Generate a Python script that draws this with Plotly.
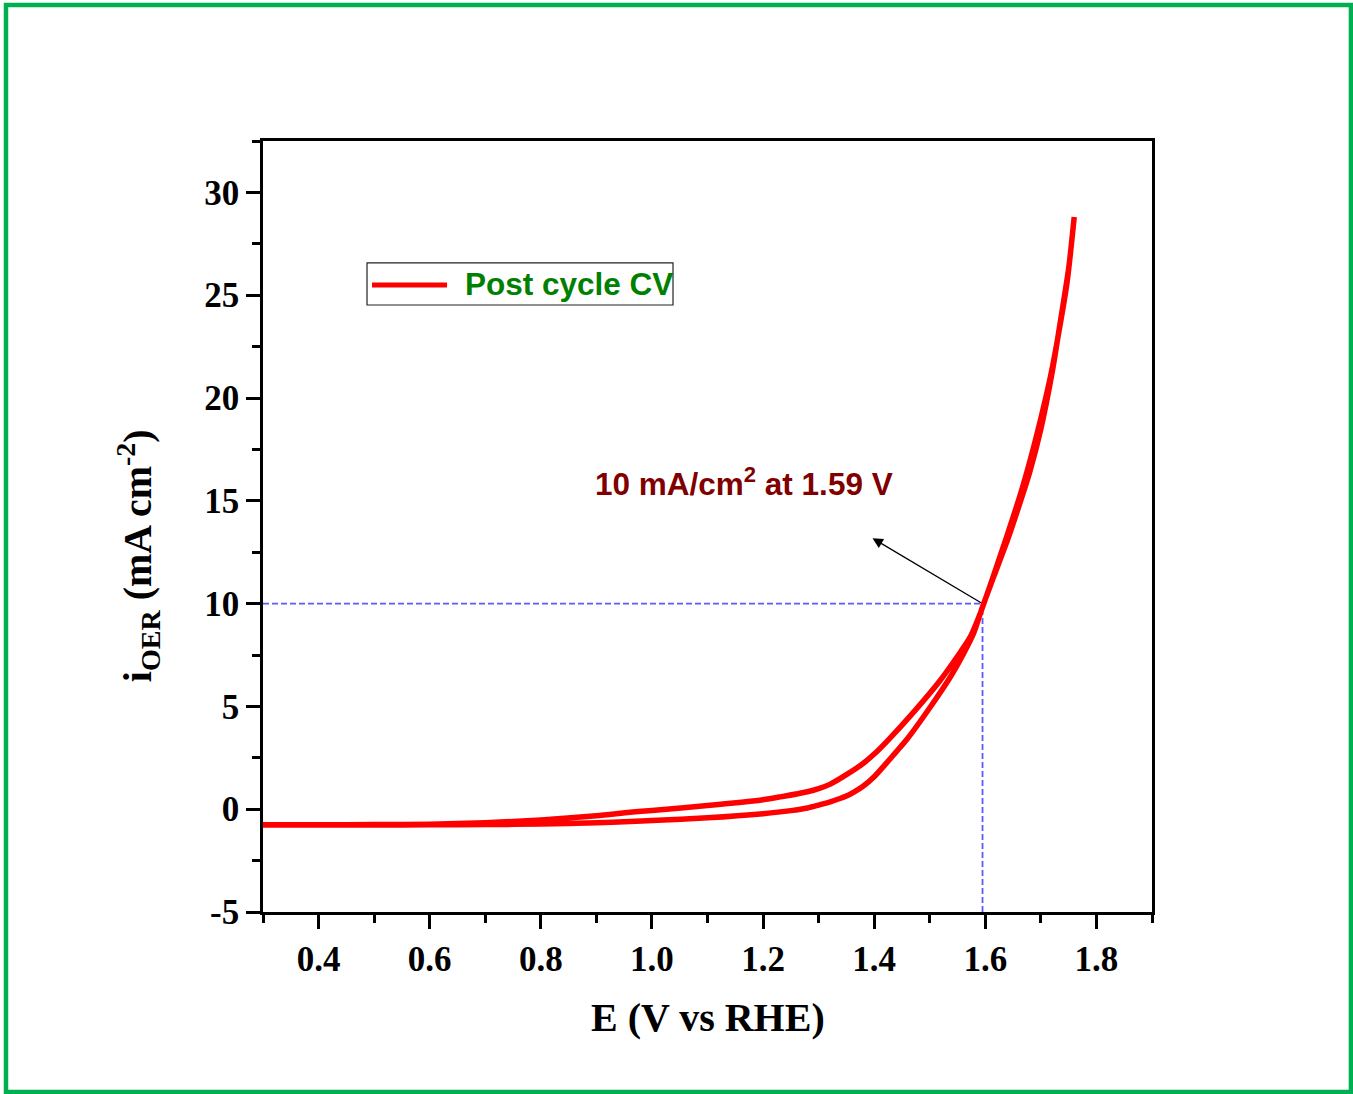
import plotly.graph_objects as go

# ---- data ----
fwd_E = [0.30, 0.40, 0.50, 0.60, 0.70, 0.80, 0.90, 0.96, 1.00, 1.10, 1.20, 1.231, 1.28, 1.30,
         1.321, 1.35, 1.38, 1.40, 1.423, 1.471, 1.519, 1.549, 1.573, 1.591, 1.614, 1.639,
         1.663, 1.68, 1.699, 1.717, 1.729, 1.747, 1.760]
fwd_i = [-0.76, -0.76, -0.75, -0.73, -0.66, -0.52, -0.32, -0.15, -0.06, 0.18, 0.46, 0.60, 0.85, 1.00,
         1.22, 1.68, 2.22, 2.68, 3.30, 4.72, 6.27, 7.40, 8.38, 9.53, 11.30, 13.30,
         15.30, 16.90, 18.90, 21.00, 22.70, 25.60, 28.80]
rev_E = [1.760, 1.750, 1.735, 1.720, 1.700, 1.680, 1.660, 1.640, 1.615, 1.596, 1.579, 1.561,
         1.537, 1.501, 1.459, 1.440, 1.420, 1.400, 1.380, 1.365, 1.350, 1.321, 1.300, 1.280,
         1.250, 1.200, 1.100, 1.000, 0.961, 0.900, 0.800, 0.700, 0.600, 0.500, 0.400, 0.300]
rev_i = [28.80, 26.30, 23.70, 21.20, 18.50, 16.40, 14.70, 13.10, 11.30, 9.92, 8.56, 7.58,
         6.43, 4.97, 3.40, 2.80, 2.18, 1.58, 1.12, 0.86, 0.64, 0.36, 0.20, 0.06,
         -0.07, -0.22, -0.42, -0.55, -0.60, -0.66, -0.72, -0.75, -0.76, -0.77, -0.77, -0.77]

ref_E = 1.595      # potential at 10 mA/cm2 (guide line)
ref_i = 10.0
x_range = [0.3, 1.9]
y_range = [-5, 32.5]
x_ticks = [0.4, 0.6, 0.8, 1.0, 1.2, 1.4, 1.6, 1.8]
x_labels = ["0.4", "0.6", "0.8", "1.0", "1.2", "1.4", "1.6", "1.8"]
y_ticks = [-5, 0, 5, 10, 15, 20, 25, 30]
y_labels = ["-5", "0", "5", "10", "15", "20", "25", "30"]

arrow_head = (1.397, 13.18)
label_pos = (1.166, 15.9)

E_all = fwd_E + rev_E
i_all = fwd_i + rev_i

fig = go.Figure()

# guide lines
fig.add_trace(go.Scatter(x=[x_range[0], ref_E], y=[ref_i, ref_i], mode="lines",
                         line=dict(color="#5a5aff", width=1.8, dash="6px,3px"),
                         showlegend=False, hoverinfo="skip"))
fig.add_trace(go.Scatter(x=[ref_E, ref_E], y=[y_range[0], ref_i], mode="lines",
                         line=dict(color="#5a5aff", width=1.8, dash="6px,3px"),
                         showlegend=False, hoverinfo="skip"))

# CV curve
fig.add_trace(go.Scatter(x=E_all, y=i_all, mode="lines", name="Post cycle CV",
                         line=dict(color="#ff0000", width=5.5, shape="spline", smoothing=0.7),
                         showlegend=False))

serif = "Liberation Serif, Times New Roman, serif"
sans = "Liberation Sans, Arial, sans-serif"

fig.update_xaxes(range=x_range, tickmode="array", tickvals=x_ticks, ticktext=x_labels,
                 showline=True, linecolor="black", linewidth=2.5, mirror=True,
                 ticks="outside", ticklen=14, tickwidth=2.5, tickcolor="black",
                 minor=dict(ticks="outside", ticklen=8, tickwidth=2.5, tickcolor="black",
                            tick0=0.3, dtick=0.1),
                 showgrid=False, zeroline=False,
                 tickfont=dict(family=serif, size=35, color="black", weight="bold"))
fig.update_yaxes(range=y_range, tickmode="array", tickvals=y_ticks, ticktext=y_labels,
                 showline=True, linecolor="black", linewidth=2.5, mirror=True,
                 ticks="outside", ticklen=14, tickwidth=2.5, tickcolor="black",
                 minor=dict(ticks="outside", ticklen=8, tickwidth=2.5, tickcolor="black",
                            tick0=-5, dtick=2.5),
                 showgrid=False, zeroline=False,
                 tickfont=dict(family=serif, size=35, color="black", weight="bold"))

annotations = [
    # x title
    dict(text="<b>E (V vs RHE)</b>", xref="paper", yref="paper", x=0.5, y=-0.137,
         xanchor="center", yanchor="middle", showarrow=False,
         font=dict(family=serif, size=40, color="black")),
    # y title
    dict(text="<b>i<sub>OER</sub> (mA cm<sup>-2</sup>)</b>", xref="paper", yref="paper",
         x=-0.1413, y=0.462, xanchor="center", yanchor="middle", textangle=-90,
         showarrow=False, font=dict(family=serif, size=40, color="black")),
    # label
    dict(text="<b>10 mA/cm<sup>2</sup> at 1.59 V</b>", x=label_pos[0], y=label_pos[1],
         xref="x", yref="y", showarrow=False, xanchor="center", yanchor="middle",
         font=dict(family=sans, size=31.5, color="#800000")),
    # arrow
    dict(text="", x=arrow_head[0], y=arrow_head[1], ax=ref_E, ay=ref_i,
         xref="x", yref="y", axref="x", ayref="y", showarrow=True,
         arrowhead=2, arrowsize=1.6, arrowwidth=1.3, arrowcolor="black", standoff=0),
    # legend text
    dict(text="<b>Post cycle CV</b>", xref="paper", yref="paper", x=0.225, y=0.8145,
         xanchor="left", yanchor="middle", showarrow=False,
         font=dict(family=sans, size=31.5, color="#008000")),
]

shapes = [
    # legend box
    dict(type="rect", xref="paper", yref="paper", x0=0.117, x1=0.4612, y0=0.7873, y1=0.8418,
         line=dict(color="#222222", width=1.2), fillcolor="rgba(0,0,0,0)"),
    # legend line
    dict(type="line", xref="paper", yref="paper", x0=0.1226, x1=0.2070, y0=0.8132, y1=0.8132,
         line=dict(color="#ff0000", width=5)),
    # green outer border
    dict(type="rect", xref="paper", yref="paper", x0=-0.2891, x1=1.2238, y0=-0.2335, y1=1.1764,
         line=dict(color="#00b050", width=4.5), fillcolor="rgba(0,0,0,0)", layer="below"),
]

fig.update_layout(width=1353, height=1094,
                  margin=dict(l=263, r=201, t=141, b=182),
                  plot_bgcolor="white", paper_bgcolor="white",
                  annotations=annotations, shapes=shapes, showlegend=False)

fig.write_html("out.html")
